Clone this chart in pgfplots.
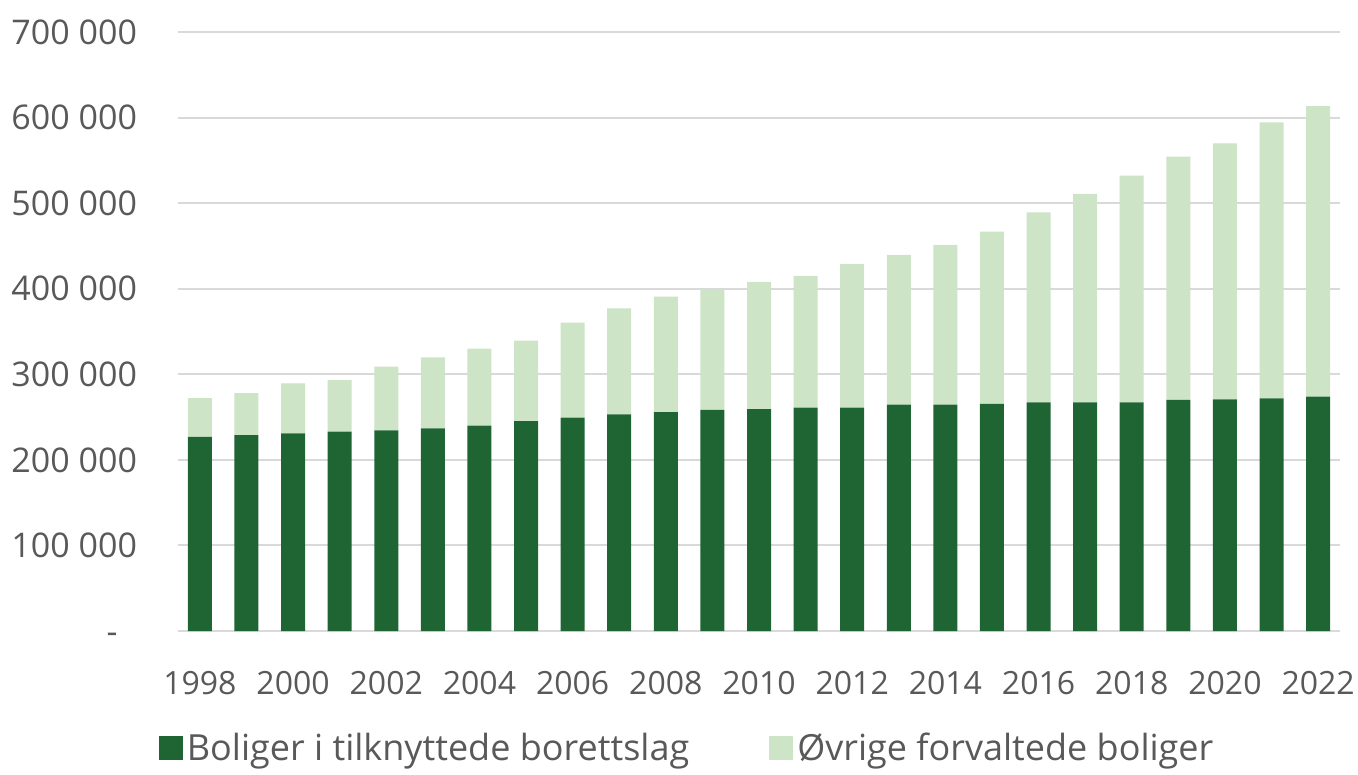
\documentclass[border=0pt]{standalone}
\usepackage{pgfplots}
\pgfplotsset{compat=1.18}
\usepackage{fontspec}
\setmainfont{Open Sans}
\definecolor{darkg}{HTML}{1F6433}
\definecolor{lightg}{HTML}{CDE4C6}
\definecolor{txt}{HTML}{595959}
\definecolor{gridc}{HTML}{D9D9D9}
\begin{document}
\begin{tikzpicture}
\path[use as bounding box] (-89pt,-72pt) rectangle (590pt,315.5pt);
\begin{axis}[
  at={(0,0)}, anchor=south west,
  scale only axis, width=581pt, height=299.5pt,
  ybar stacked, bar width=12pt,
  xmin=1997.53, xmax=2022.47,
  ymin=0, ymax=700000,
  xtick={1998,2000,...,2022},
  xticklabels={1998,2000,2002,2004,2006,2008,2010,2012,2014,2016,2018,2020,2022},
  ytick={0,100000,...,700000},
  scaled y ticks=false,
  yticklabels={{-\phantom{0}},100 000,200 000,300 000,400 000,500 000,600 000,700 000},
  xmajorgrids=false, ymajorgrids=true,
  major grid style={draw=gridc, line width=1pt},
  axis line style={draw=none},
  axis x line*=bottom,
  tick style={draw=none},
  major tick length=0pt,
  /pgf/number format/assume math mode=true,
  tick label style={font=\fontsize{17}{20}\selectfont, text=txt},
  y tick label style={anchor=east, xshift=-17pt},
  x tick label style={yshift=-16.5pt, font=\fontsize{16}{19}\selectfont},
  legend style={at={(axis description cs:0.439,0)}, anchor=center, yshift=-58.5pt,
    draw=none, fill=none, font=\fontsize{18}{21}\selectfont, text=txt,
    legend columns=2,
    /tikz/every even column/.append style={column sep=38pt}},
  legend image code/.code={\draw[#1,draw=none] (0pt,-6pt) rectangle (12pt,6pt);},
  clip=false,
]
\addplot[fill=darkg, draw=none] coordinates {
(1998,227000) (1999,228800) (2000,231000) (2001,233000) (2002,234500)
(2003,236900) (2004,240000) (2005,245400) (2006,249300) (2007,253200)
(2008,255900) (2009,258300) (2010,259400) (2011,261000) (2012,261000)
(2013,264500) (2014,264500) (2015,265300) (2016,267300) (2017,267300)
(2018,267300) (2019,270000) (2020,270800) (2021,271900) (2022,273800)};
\addplot[fill=lightg, draw=none] coordinates {
(1998,45000) (1999,49200) (2000,58500) (2001,60300) (2002,74400)
(2003,82900) (2004,89900) (2005,93900) (2006,111000) (2007,123900)
(2008,134800) (2009,141000) (2010,148500) (2011,153900) (2012,167900)
(2013,174900) (2014,186600) (2015,201400) (2016,222000) (2017,243400)
(2018,264800) (2019,284300) (2020,299100) (2021,322600) (2022,339700)};
\legend{Boliger i tilknyttede borettslag, Øvrige forvaltede boliger}
\draw[gridc, line width=1pt] (rel axis cs:0,0) -- (rel axis cs:1,0);
\end{axis}
\end{tikzpicture}
\end{document}
